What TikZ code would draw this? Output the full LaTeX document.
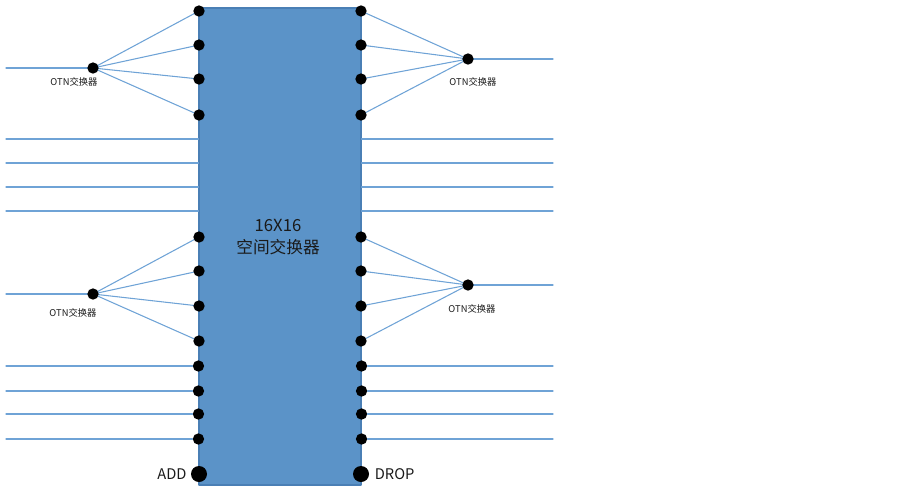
\documentclass[tikz,border=0pt]{standalone}
\usepackage{fontspec}
\setmainfont{Noto Sans CJK SC}
\usetikzlibrary{positioning}
\definecolor{swfill}{HTML}{5B93C8}
\definecolor{swedge}{HTML}{4A7FB5}
\definecolor{fibre}{HTML}{6FA3D6}
\definecolor{ink}{HTML}{1A1A1A}
\tikzset{el/.style={line cap=round, line join=round}}

\begin{document}
\begin{tikzpicture}[el, x=0.75pt, y=-0.75pt,
     port/.style={circle, fill=black, inner sep=0pt, minimum size=8.5pt},
     bigport/.style={port, minimum size=12pt},
     fib/.style={fibre, line width=0.8pt},
     lbl/.style={font=\fontsize{7}{8}\selectfont, text=ink, inner sep=0pt},
     io/.style={font=\fontsize{11}{13}\selectfont, text=ink, inner sep=0pt}]
     \useasboundingbox (0,0) rectangle (903,490);
     % switch fabric
     \node[draw=swedge, fill=swfill, line width=0.8pt, inner sep=0pt,
        minimum width=121.5pt, minimum height=357.75pt] (sw) at (280,246.5) {};
     \node[font=\fontsize{12.5}{16.5}\selectfont, text=ink, align=center] (title) at (278,237) {16X16\\空间交换器};
     % OTN switches
     \coordinate (ca) at (93,68); \coordinate (cb) at (468,59);
     \coordinate (cc) at (93,294); \coordinate (cd) at (468,285);
     \coordinate (ia) at (6,68); \coordinate (ib) at (553,59);
     \coordinate (ic) at (6,294); \coordinate (id) at (553,285);
     \draw[fib] (ia)--(ca);\draw[fib] (cb)--(ib);\draw[fib] (ic)--(cc);\draw[fib] (cd)--(id);
     % ports fanned out to the OTN switches
     \foreach \y [count=\i] in {11,45,79,115} {
        \draw[fib] (ca)--(199,\y) coordinate (la\i);
        \draw[fib] (cb)--(361,\y) coordinate (ra\i);
        \node[port] (pla\i) at (la\i) {}; \node[port] (pra\i) at (ra\i) {};
     }
     \foreach \y [count=\i] in {237,271,306,341} {
        \draw[fib] (cc)--(199,\y) coordinate (lc\i);
        \draw[fib] (cd)--(361,\y) coordinate (rc\i);
        \node[port] (plc\i) at (lc\i) {}; \node[port] (prc\i) at (rc\i) {};
     }
     \node[port] (oa) at (ca) {};
     \node[port] (ob) at (cb) {};
     \node[port] (oc) at (cc) {};
     \node[port] (od) at (cd) {};
     \node[lbl] (oal) at (74,82) {OTN交换器};
     \node[lbl] (obl) at (473,82) {OTN交换器};
     \node[lbl] (ocl) at (73,313) {OTN交换器};
     \node[lbl] (odl) at (472,309) {OTN交换器};
     % straight fibres, no port dots
     \foreach \y [count=\i] in {139,163,187,211} {
        \coordinate (sl\i) at (6,\y); \coordinate (sr\i) at (553,\y);
        \draw[fib] (sl\i)--(sw.west |- sl\i);
        \draw[fib] (sw.east |- sr\i)--(sr\i);
     }
     % straight fibres with ports
     \foreach \y [count=\i] in {366,391,414,439} {
        \coordinate (tl\i) at (6,\y); \coordinate (tr\i) at (553,\y);
        \node[port] (ptl\i) at (sw.west |- tl\i) {};
        \node[port] (ptr\i) at (sw.east |- tr\i) {};
        \draw[fib] (tl\i)--(ptl\i);\draw[fib] (ptr\i)--(tr\i);
     }
     % add / drop
     \node[bigport] (add) at (199,474) {};
     \node[bigport] (drop) at (361,474) {};
     \node[io, left=3pt of add] (addl) {ADD};
     \node[io, right=4pt of drop] (dropl) {DROP};
  \end{tikzpicture}
\end{document}
